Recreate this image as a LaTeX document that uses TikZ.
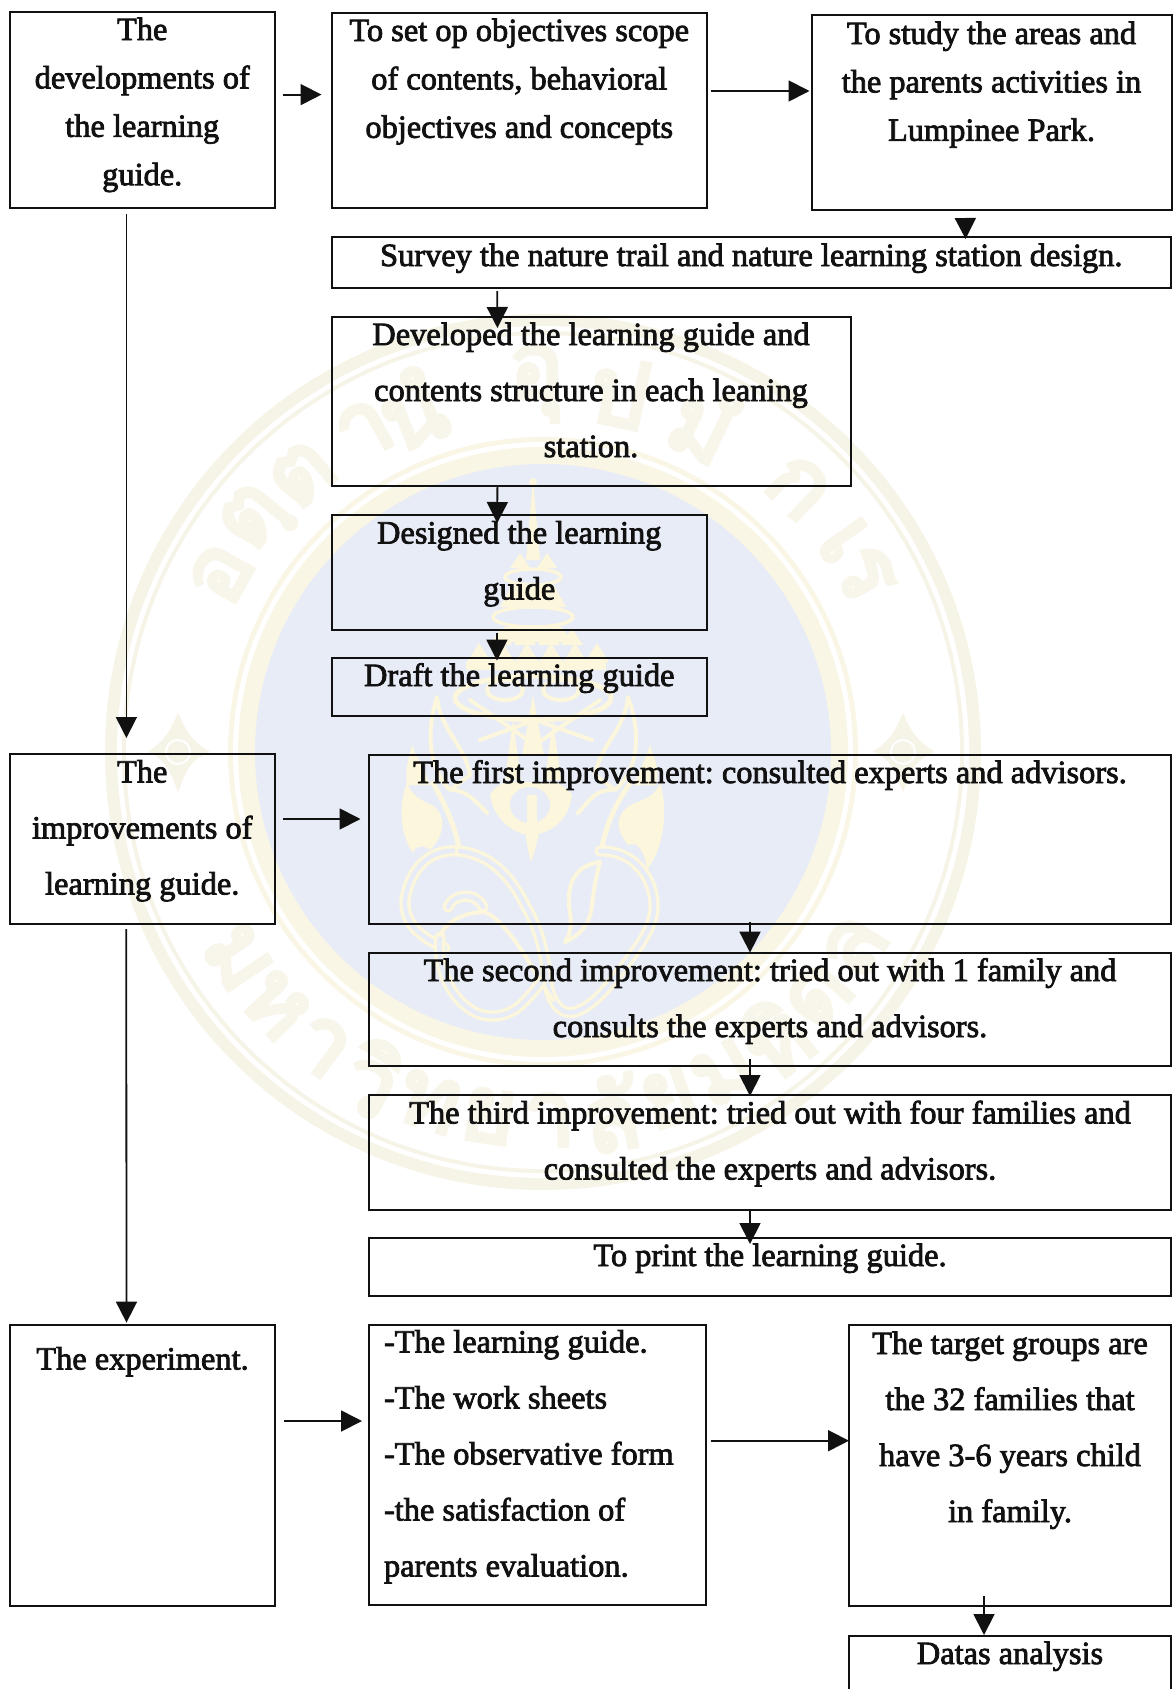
\documentclass[tikz,border=0pt]{standalone}
\usepackage{fontspec}
\usetikzlibrary{arrows.meta}
\setmainfont{Liberation Serif}
\newfontfamily\tf[FakeBold=2.4]{Liberation Serif}
\newfontfamily\thaimark[Script=Thai,FakeBold=5]{Loma}
\definecolor{wmblue}{HTML}{E8ECF6}
\definecolor{wmband}{HTML}{F6F3E7}
\definecolor{wmin}{HTML}{FAF6E6}
\definecolor{wmem}{HTML}{FBF6DC}
\definecolor{wmtxt}{HTML}{F8F5EA}
\definecolor{ink}{HTML}{111111}
\tikzset{
  boxs/.style={draw=ink,line width=2pt,inner sep=0pt,outer sep=0pt,text=ink},
  arr/.style={draw=ink,line width=1.8pt,-{Triangle[length=21pt,width=21pt]}},
  emfill/.style={fill=wmem,draw=none},
  emline/.style={draw=wmem,line width=4pt,line cap=round,line join=round},
  emdouble/.style={draw=wmem,line width=3.4pt,double=wmblue,double distance=4.5pt,line cap=round,line join=round},
  wmletter/.style={text=wmtxt,inner sep=0pt,font=\thaimark\fontsize{92}{92}\selectfont}
}
\newcommand{\lineA}{\fontsize{32.4}{48.4}\selectfont\tf\frenchspacing}
\newcommand{\lineB}{\fontsize{32.4}{56}\selectfont\tf\frenchspacing}
\newcommand{\bx}[8]{\node[boxs,anchor=north west] (#1) at (#2,#3)
  {\parbox[c][#5pt][t]{#4pt}{\centering#7\rule{0pt}{#6pt}#8}};}
\begin{document}
\begin{tikzpicture}[x=1pt,y=-1pt]
\clip (0,0) rectangle (1173,1689);
\useasboundingbox (0,0) rectangle (1173,1689);
\fill[white] (0,0) rectangle (1173,1689);
% ---------- watermark seal
\fill[wmband] (543,752) circle[radius=438];
\fill[white] (543,752) circle[radius=426];
\fill[wmband] (543,752) circle[radius=421];
\fill[white] (543,752) circle[radius=417];
\fill[wmin] (543,752) circle[radius=315];
\fill[white] (543,752) circle[radius=310];
\fill[wmin] (543,752) circle[radius=305];
\fill[wmblue] (543,752) circle[radius=288];
\foreach \a/\t [count=\i] in {151/อ,141/ตฺ,131/ต,119/า,111/นํ,91/อุ,78/ป,64/มํ,46/ก,35/เ,29/ร}
  \node[wmletter,rotate=\a-90,name=wt\i] at ({543+368*cos(\a)},{752-368*sin(\a)}) {\t};
\foreach \a/\t [count=\i] in {-146/ม,-136.5/ห,-127/า,-117.5/วิ,-108/ท,-98.5/ย,-89/า,-79.5/ลั,-70/ย,-60.5/ม,-51/หิ,-41.5/ด,-32/ล}
  \node[wmletter,rotate=\a+90,name=wb\i] at ({543+368*cos(\a)},{752-368*sin(\a)}) {\t};
% flowers
\foreach \c in {178,903}{
  \fill[wmband] (\c,713) .. controls (\c+7,728) and (\c+10,738) .. (\c+32,752)
     .. controls (\c+10,760) and (\c+7,775) .. (\c,792)
     .. controls (\c-7,775) and (\c-10,760) .. (\c-30,752)
     .. controls (\c-10,738) and (\c-7,728) .. (\c,713) -- cycle;
  \draw[white,line width=2pt] (\c,752) circle[radius=12];
}
% emblem: spire and crown
\fill[emfill] (533,480) -- (526,560) -- (540,560) -- cycle;
\fill[wmem] (533,482) circle[radius=4];
\fill[emfill] (520,553) -- (510,568) -- (530,568) -- cycle;
\fill[emfill] (547,553) -- (537,568) -- (557,568) -- cycle;
\fill[emfill] (512,585) -- (554,585) -- (566,607) -- (500,607) -- cycle;
\draw[emline,line width=3.5pt] (533,577) ellipse[x radius=28,y radius=8];
\draw[emline,line width=3.5pt] (533,617) ellipse[x radius=40,y radius=10];
\fill[emfill] (505,627) -- (561,627) -- (574,642) -- (492,642) -- cycle;
\foreach \c in {501,525,549,572}{\fill[emfill] (\c,628) -- (\c-11,645) -- (\c+11,645) -- cycle;}
\foreach \c in {479,503,527,551,575,597}{\fill[emfill] (\c,643) -- (\c-12,662) -- (\c+12,662) -- cycle;}
\fill[wmem] (466,662) rectangle (606,670);
\draw[emline,line width=5pt] (533,698) ellipse[x radius=78,y radius=22];
\draw[emline] (505,690) ellipse[x radius=18,y radius=10];
\draw[emline] (561,690) ellipse[x radius=18,y radius=10];
\fill[emfill] (533,695) -- (522,755) -- (544,755) -- cycle;
\fill[emfill] (513,720) -- (505,780) -- (521,780) -- cycle;
\fill[emfill] (553,720) -- (545,780) -- (561,780) -- cycle;
\draw[emline] (470,700) -- (535,745) -- (600,700);
\draw[emline] (480,740) -- (535,720) -- (592,740);
% side flames above the heads
\draw[emline] (437,697) .. controls (440,730) and (465,745) .. (470,775) -- (450,790) .. controls (430,770) and (425,735) .. (437,697) -- cycle;
\draw[emline] (628,697) .. controls (625,730) and (600,745) .. (595,775) -- (615,790) .. controls (638,770) and (642,735) .. (628,697) -- cycle;
\fill[wmem] (412,745) .. controls (408,760) and (405,770) .. (407,785) -- (430,785) .. controls (425,770) and (418,760) .. (412,745) -- cycle;
\fill[wmem] (650,745) .. controls (655,760) and (660,770) .. (656,785) -- (634,785) .. controls (640,770) and (645,760) .. (650,745) -- cycle;
% lower flames
\fill[emfill] (407,783) .. controls (398,805) and (400,835) .. (413,853) .. controls (415,845) and (425,845) .. (430,850)
   .. controls (445,835) and (447,815) .. (432,805) .. controls (420,800) and (412,795) .. (407,783) -- cycle;
\fill[emfill] (660,783) .. controls (668,810) and (665,845) .. (647,870) .. controls (645,855) and (640,840) .. (628,845)
   .. controls (612,825) and (618,810) .. (635,803) .. controls (648,798) and (655,795) .. (660,783) -- cycle;
\draw[emline,line width=5pt] (433,783) .. controls (445,805) and (455,825) .. (460,852);
\draw[emline,line width=5pt] (630,783) .. controls (615,805) and (606,825) .. (601,852);
\draw[emline] (452,790) .. controls (465,790) and (475,800) .. (487,813);
\draw[emline] (612,790) .. controls (595,790) and (590,800) .. (578,813);
% pendant
\fill[emfill] (490,795) .. controls (495,825) and (520,835) .. (530,835) .. controls (545,835) and (568,825) .. (572,795)
   .. controls (565,785) and (555,782) .. (552,782) -- (510,782) .. controls (505,782) and (495,785) .. (490,795) -- cycle;
\fill[wmblue] (530,805) ellipse[x radius=20,y radius=18];
\fill[emfill] (527,795) -- (537,795) -- (537,825) -- (527,825) -- cycle;
\fill[emfill] (524,825) -- (541,825) -- (535,850) -- (531,862) -- (528,850) -- cycle;
% ribbons
\draw[emdouble] (460,851) .. controls (430,848) and (410,868) .. (405,900) .. controls (404,920) and (415,935) .. (445,948);
\draw[emdouble] (460,851) .. controls (490,855) and (510,875) .. (525,905) .. controls (540,930) and (545,955) .. (548,985)
   .. controls (552,1005) and (562,1015) .. (575,1012) .. controls (595,1005) and (610,985) .. (625,965)
   .. controls (640,945) and (655,925) .. (654,905) .. controls (654,880) and (635,850) .. (600,851);
\draw[emline] (600,862) .. controls (575,865) and (565,885) .. (570,913) .. controls (572,925) and (570,935) .. (565,942)
   .. controls (580,935) and (590,925) .. (592,905) .. controls (594,890) and (595,880) .. (600,862);
\draw[emdouble] (448,907) .. controls (452,895) and (475,890) .. (483,907);
\draw[emline] (487,913) .. controls (505,922) and (525,955) .. (537,975) .. controls (542,985) and (550,995) .. (553,1000);
\draw[emdouble] (440,937) .. controls (436,965) and (450,995) .. (467,1007) .. controls (480,1018) and (500,1020) .. (517,1008) .. controls (525,1002) and (535,990) .. (541,982);
\draw[emline] (440,935) .. controls (448,920) and (465,912) .. (485,912);
% ---------- boxes
\bx{A}{10}{12}{264.5}{195.5}{28}{\lineA}{The\\developments of\\the learning\\guide.}
\bx{B}{331.5}{13}{375.5}{195}{28}{\lineA}{To set op objectives scope\\of contents, behavioral\\objectives and concepts}
\bx{C}{811.5}{15}{360}{195}{29}{\lineA}{To study the areas and\\the parents activities in\\Lumpinee Park.}
\bx{D}{331.5}{237}{839.5}{51}{29}{\lineA}{Survey the nature trail and nature learning station design.}
\bx{E}{331.5}{317}{519}{169}{28}{\lineB}{Developed the learning guide and\\contents structure in each leaning\\station.}
\bx{F}{331.5}{515}{375.5}{115}{28.5}{\lineB}{Designed the learning\\guide}
\bx{G}{331.5}{658}{375.5}{58}{28}{\lineB}{Draft the learning guide}
\bx{H}{10}{754}{264.5}{170}{28.5}{\lineB}{The\\improvements of\\learning guide.}
\bx{I}{369}{755}{802}{169}{28}{\lineB}{The first improvement: consulted experts and advisors.}
\bx{J}{369}{953}{802}{113}{28}{\lineB}{The second improvement: tried out with 1 family and\\consults the experts and advisors.}
\bx{K}{369}{1095}{802}{115}{28.5}{\lineB}{The third improvement: tried out with four families and\\consulted the experts and advisors.}
\bx{L}{369}{1238}{802}{58}{28}{\lineB}{To print the learning guide.}
\bx{M}{10}{1325}{265}{281}{44.5}{\lineB}{The experiment.}
\node[boxs,anchor=north west] (N) at (369,1325)
  {\parbox[c][280pt][t]{337pt}{\raggedright\lineB\hspace*{15pt}\rule{0pt}{27.5pt}-The learning guide.\\\hspace*{15pt}-The work sheets\\\hspace*{15pt}-The observative form\\\hspace*{15pt}-the satisfaction of\\\hspace*{15pt}parents evaluation.}};
\bx{O}{849}{1325}{322}{281}{29}{\lineB}{The target groups are\\the 32 families that\\have 3-6 years child\\in family.}
\bx{P}{849}{1636}{322}{70}{28}{\lineB}{Datas analysis}
% ---------- connectors
\draw[arr] ([shift={(8.5,-15.15)}]A.east) -- ([shift={(-10,-15.9)}]B.west);
\draw[arr] ([shift={(3.5,-19.5)}]B.east) -- ([shift={(-2,-21.5)}]C.west);
\draw[arr] ([shift={(-26.15,8)}]C.south) -- ([shift={(214.35,2)}]D.north);
\draw[arr] ([shift={(-254,3)}]D.south) -- ([shift={(-93.6,11)}]E.north);
\draw[arr] ([shift={(-93.6,0.4)}]E.south) -- ([shift={(-22,8)}]F.north);
\draw[arr] ([shift={(-22.3,3)}]F.south) -- ([shift={(-22.3,2.6)}]G.north);
\draw[arr] ([shift={(-15.85,6.5)}]A.south) -- ([shift={(-15.85,-16)}]H.north);
\draw[arr] ([shift={(8.5,-20)}]H.east) -- ([shift={(-8.5,-20.5)}]I.west);
\draw[arr] ([shift={(-20,-2.4)}]I.south) -- ([shift={(-20,-0.4)}]J.north);
\draw[arr] ([shift={(-20,-7)}]J.south) -- ([shift={(-20,1)}]K.north);
\draw[arr] ([shift={(-20,0)}]K.south) -- ([shift={(-20,6)}]L.north);
\draw[arr] ([shift={(-16,5)}]H.south) -- ([shift={(-16,-2.4)}]M.north);
\draw[arr] ([shift={(9,-44.5)}]M.east) -- ([shift={(-7,-44)}]N.west);
\draw[arr] ([shift={(4.5,-24.3)}]N.east) -- ([shift={(0,-24.8)}]O.west);
\draw[arr] ([shift={(-26,-10)}]O.south) -- ([shift={(-26,-1)}]P.north);
\end{tikzpicture}
\end{document}
